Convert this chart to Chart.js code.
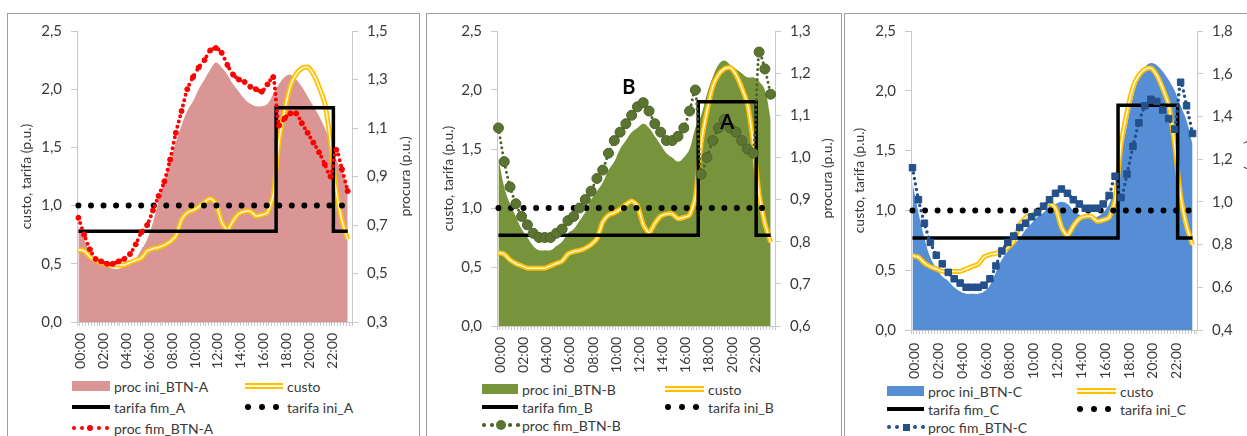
<!DOCTYPE html>
<html>
<head>
<meta charset="utf-8">
<script src="https://cdn.jsdelivr.net/npm/chart.js@4.4.0/dist/chart.umd.min.js"></script>
<style>
  body { margin: 0; width: 1247px; height: 436px; overflow: hidden; position: relative; background: #fff; font-family: Lato, sans-serif; color: #3a3a3a; }
  .quadro { position: absolute; top: 13px; height: 440px; border: 1px solid #9c9c9c; box-sizing: border-box; }
  canvas { position: absolute; top: 13px; }
  .item { position: absolute; height: 20px; display: flex; align-items: center; white-space: nowrap; font-size: 14px; }
  .sw { display: inline-block; position: relative; margin-right: 4px; }
  .sw i { position: absolute; display: block; }
</style>
</head>
<body>
<div class="quadro" style="left:7px;width:413px"></div>
<div class="quadro" style="left:426px;width:416px"></div>
<div class="quadro" style="left:844px;width:420px"></div>
<canvas id="graficoA" width="412" height="359" style="left:7px"></canvas>
<canvas id="graficoB" width="415" height="363" style="left:427px"></canvas>
<canvas id="graficoC" width="418" height="367" style="left:844px"></canvas>
<script>
// categorias: 96 quartos de hora, valores lidos a cada meia hora
const horas = [];
for (let h = 0; h < 24; h++) {
  for (let m = 0; m < 60; m += 15) {
    horas.push(String(h).padStart(2, '0') + ':' + String(m).padStart(2, '0'));
  }
}

// custo (eixo esquerdo), igual nos tres graficos
const custo = [0.62, 0.61, 0.56, 0.53, 0.51, 0.49, 0.49, 0.49, 0.49, 0.51, 0.53, 0.55,
  0.61, 0.63, 0.64, 0.66, 0.69, 0.74, 0.88, 0.94, 0.96, 0.99, 1.03, 1.06,
  1.02, 0.86, 0.79, 0.87, 0.93, 0.95, 0.95, 0.91, 0.92, 0.94, 1.09, 1.55,
  1.82, 2.03, 2.13, 2.18, 2.19, 2.13, 2.02, 1.88, 1.55, 1.12, 0.87, 0.71];

const tarifaIni = [1, 1, 1, 1, 1, 1, 1, 1, 1, 1, 1, 1, 1, 1, 1, 1, 1, 1, 1, 1, 1, 1, 1, 1,
  1, 1, 1, 1, 1, 1, 1, 1, 1, 1, 1, 1, 1, 1, 1, 1, 1, 1, 1, 1, 1, 1, 1, 1];

// BTN-A
const procIniA = [0.70, 0.64, 0.59, 0.55, 0.54, 0.53, 0.52, 0.52, 0.53, 0.54, 0.56, 0.60,
  0.64, 0.71, 0.80, 0.88, 0.96, 1.04, 1.11, 1.17, 1.21, 1.26, 1.30, 1.34,
  1.37, 1.35, 1.32, 1.28, 1.25, 1.22, 1.20, 1.19, 1.19, 1.20, 1.24, 1.28,
  1.31, 1.32, 1.30, 1.27, 1.23, 1.19, 1.15, 1.10, 1.04, 0.97, 0.92, 0.86];
const procFimA = [0.73, 0.66, 0.60, 0.56, 0.55, 0.54, 0.54, 0.55, 0.56, 0.58, 0.62, 0.67,
  0.70, 0.76, 0.82, 0.88, 0.97, 1.08, 1.17, 1.26, 1.31, 1.35, 1.38, 1.42,
  1.43, 1.41, 1.36, 1.32, 1.30, 1.29, 1.27, 1.26, 1.25, 1.28, 1.31, 1.11,
  1.14, 1.16, 1.16, 1.12, 1.08, 1.04, 1.00, 0.95, 0.90, 1.01, 0.93, 0.84];
const tarifaFimA = [0.78, 0.78, 0.78, 0.78, 0.78, 0.78, 0.78, 0.78, 0.78, 0.78, 0.78, 0.78,
  0.78, 0.78, 0.78, 0.78, 0.78, 0.78, 0.78, 0.78, 0.78, 0.78, 0.78, 0.78,
  0.78, 0.78, 0.78, 0.78, 0.78, 0.78, 0.78, 0.78, 0.78, 0.78, 0.78, 1.84,
  1.84, 1.84, 1.84, 1.84, 1.84, 1.84, 1.84, 1.84, 1.84, 0.78, 0.78, 0.78];

// BTN-B
const procIniB = [1.00, 0.93, 0.89, 0.86, 0.83, 0.81, 0.79, 0.78, 0.78, 0.78, 0.79, 0.80,
  0.82, 0.83, 0.85, 0.87, 0.90, 0.92, 0.94, 0.97, 0.99, 1.02, 1.04, 1.06,
  1.07, 1.08, 1.07, 1.05, 1.03, 1.01, 1.00, 0.99, 1.00, 1.02, 1.07, 1.10,
  1.15, 1.19, 1.22, 1.23, 1.22, 1.21, 1.20, 1.19, 1.19, 1.18, 1.16, 1.09];
const procFimB = [1.07, 0.99, 0.93, 0.89, 0.86, 0.84, 0.82, 0.81, 0.81, 0.81, 0.82, 0.83,
  0.85, 0.86, 0.88, 0.90, 0.92, 0.95, 0.97, 1.01, 1.04, 1.06, 1.08, 1.10,
  1.12, 1.13, 1.11, 1.08, 1.06, 1.04, 1.04, 1.05, 1.07, 1.11, 1.16, 0.96,
  1.00, 1.04, 1.07, 1.09, 1.07, 1.06, 1.04, 1.02, 1.01, 1.25, 1.21, 1.15];
const tarifaFimB = [0.77, 0.77, 0.77, 0.77, 0.77, 0.77, 0.77, 0.77, 0.77, 0.77, 0.77, 0.77,
  0.77, 0.77, 0.77, 0.77, 0.77, 0.77, 0.77, 0.77, 0.77, 0.77, 0.77, 0.77,
  0.77, 0.77, 0.77, 0.77, 0.77, 0.77, 0.77, 0.77, 0.77, 0.77, 0.77, 1.90,
  1.90, 1.90, 1.90, 1.90, 1.90, 1.90, 1.90, 1.90, 1.90, 0.77, 0.77, 0.77];

// BTN-C
const procIniC = [1.09, 0.95, 0.83, 0.74, 0.69, 0.65, 0.63, 0.60, 0.58, 0.57, 0.57, 0.57,
  0.58, 0.61, 0.67, 0.73, 0.77, 0.80, 0.83, 0.87, 0.90, 0.93, 0.95, 0.98,
  0.99, 1.00, 0.99, 0.96, 0.94, 0.93, 0.93, 0.93, 0.95, 0.99, 1.06, 1.22,
  1.36, 1.49, 1.58, 1.63, 1.65, 1.64, 1.61, 1.57, 1.52, 1.45, 1.38, 1.27];
const procFimC = [1.16, 1.01, 0.90, 0.81, 0.75, 0.71, 0.67, 0.64, 0.62, 0.60, 0.60, 0.60,
  0.61, 0.64, 0.70, 0.77, 0.81, 0.84, 0.88, 0.90, 0.93, 0.95, 0.98, 1.01,
  1.04, 1.06, 1.04, 1.01, 0.99, 0.97, 0.97, 0.97, 0.99, 1.03, 1.12, 1.02,
  1.13, 1.26, 1.37, 1.45, 1.48, 1.47, 1.43, 1.39, 1.34, 1.56, 1.45, 1.32];
const tarifaFimC = [0.77, 0.77, 0.77, 0.77, 0.77, 0.77, 0.77, 0.77, 0.77, 0.77, 0.77, 0.77,
  0.77, 0.77, 0.77, 0.77, 0.77, 0.77, 0.77, 0.77, 0.77, 0.77, 0.77, 0.77,
  0.77, 0.77, 0.77, 0.77, 0.77, 0.77, 0.77, 0.77, 0.77, 0.77, 0.77, 1.88,
  1.88, 1.88, 1.88, 1.88, 1.88, 1.88, 1.88, 1.88, 1.88, 0.77, 0.77, 0.77];

// letras do grafico B
const notasTexto = ['B', 'A'];
const notasHora = ['11:15', '19:45'];
const notasValor = [2.02, 1.72];

const corTexto = '#3a3a3a';
const corEixo = '#c8c8c8';

Chart.defaults.font.family = 'Lato, sans-serif';
Chart.defaults.font.size = 14;
Chart.defaults.color = corTexto;

function pontos(valores) {
  return valores.map((v, j) => ({ x: horas[2 * j], y: v }));
}

function decimal(v) {
  return Number(v).toFixed(1).replace('.', ',');
}

// titulo do eixo direito, lido de baixo para cima
const tituloDireita = {
  id: 'tituloDireita',
  afterDraw(chart, args, opts) {
    const s = chart.scales.y1;
    const ctx = chart.ctx;
    ctx.save();
    ctx.translate(s.right - opts.recuo, (s.top + s.bottom) / 2);
    ctx.rotate(-Math.PI / 2);
    ctx.font = '14px Lato, sans-serif';
    ctx.fillStyle = corTexto;
    ctx.textAlign = 'center';
    ctx.textBaseline = 'middle';
    ctx.fillText('procura (p.u.)', 0, 0);
    ctx.restore();
  }
};

const letras = {
  id: 'letras',
  afterDatasetsDraw(chart, args, opts) {
    if (!opts.textos) return;
    const ctx = chart.ctx;
    ctx.save();
    ctx.font = 'bold 20px Lato, sans-serif';
    ctx.fillStyle = '#000';
    ctx.textAlign = 'center';
    ctx.textBaseline = 'middle';
    opts.textos.forEach((t, i) => {
      const x = chart.scales.x.getPixelForValue(horas.indexOf(opts.horas[i]));
      const y = chart.scales.y.getPixelForValue(opts.valores[i]);
      ctx.fillText(t, x, y);
    });
    ctx.restore();
  }
};

function criarGrafico(id, p) {
  return new Chart(document.getElementById(id), {
    type: 'line',
    data: {
      labels: horas,
      datasets: [
        {
          label: p.nomes[0], data: pontos(p.procIni), yAxisID: 'y1',
          fill: 'start', backgroundColor: p.corArea, borderWidth: 0,
          pointRadius: 0, tension: 0.4, order: 10
        },
        {
          label: p.nomes[1], data: pontos(custo), yAxisID: 'y',
          borderColor: '#ffc000', borderWidth: 5, pointRadius: 0, tension: 0.2, order: 6
        },
        {
          label: p.nomes[1], data: pontos(custo), yAxisID: 'y',
          borderColor: '#fff7d6', borderWidth: 1.5, pointRadius: 0, tension: 0.2, order: 5
        },
        {
          label: p.nomes[3], data: pontos(tarifaIni), yAxisID: 'y',
          borderColor: '#000', borderWidth: 6, borderDash: [0, 12.55], borderCapStyle: 'round',
          pointRadius: 0, order: 4
        },
        {
          label: p.nomes[2], data: pontos(p.tarifaFim), yAxisID: 'y',
          borderColor: '#000', borderWidth: 3.5, stepped: 'middle', pointRadius: 0, order: 2
        },
        {
          label: p.nomes[4], data: pontos(p.procFim), yAxisID: 'y1',
          borderColor: p.corFim, borderWidth: p.larguraFim, borderDash: p.tracoFim,
          borderCapStyle: 'round', pointStyle: p.marcador, pointRadius: p.raio,
          pointBackgroundColor: p.corMarca, pointBorderColor: p.corFim, pointBorderWidth: 1,
          tension: 0.25, order: 1
        }
      ]
    },
    options: {
      responsive: false,
      animation: false,
      events: [],
      layout: { padding: { top: 18, left: 0, right: 0, bottom: 0 } },
      plugins: {
        legend: { display: false },
        tooltip: { enabled: false },
        tituloDireita: { recuo: p.recuoTitulo },
        letras: p.letras || {}
      },
      scales: {
        x: {
          offset: true,
          grid: { drawOnChartArea: false, tickLength: 4, color: corEixo, offset: true },
          border: { color: corEixo },
          ticks: {
            autoSkip: false, minRotation: 90, maxRotation: 90, padding: p.padX, labelOffset: 2,
            callback: (v, i) => (i % 8 === 0 ? horas[i] : '')
          },
          afterFit: s => { s.height = 50; }
        },
        y: {
          position: 'left', min: 0, max: 2.5,
          ticks: { stepSize: 0.5, padding: 9, font: { size: 15 }, callback: v => decimal(v) },
          grid: { drawOnChartArea: false, tickLength: 6, color: corEixo },
          border: { color: corEixo },
          title: {
            display: true, text: 'custo, tarifa (p.u.)',
            padding: { top: p.padTitulo, bottom: 0 }
          },
          afterFit: s => { s.width = p.largEsq; }
        },
        y1: {
          position: 'right', min: p.min1, max: p.max1,
          ticks: { stepSize: p.passo1, padding: 9, font: { size: 15 }, callback: v => decimal(v) },
          grid: { drawOnChartArea: false, tickLength: 6, color: corEixo },
          border: { color: corEixo },
          afterFit: s => { s.width = p.largDir; }
        }
      }
    },
    plugins: [tituloDireita, letras]
  });
}

// legenda em HTML, duas colunas
function bola(cx, d, cor, quadrado) {
  return '<i style="left:' + (cx - d / 2) + 'px;top:' + (5 - d / 2) + 'px;width:' + d + 'px;height:' + d +
    'px;background:' + cor + ';border-radius:' + (quadrado ? '0' : '50%') + '"></i>';
}

function amostra(tipo, w, p) {
  if (tipo === 'area') return '<span class="sw" style="width:' + w + 'px;height:10px;background:' + p.corArea + '"></span>';
  if (tipo === 'custo') return '<span class="sw" style="width:' + w + 'px;height:2px;border-top:2px solid #ffc000;border-bottom:2px solid #ffc000;background:#fff7d6"></span>';
  if (tipo === 'linha') return '<span class="sw" style="width:' + w + 'px;height:4px;background:#000"></span>';
  if (tipo === 'pontos') return '<span class="sw" style="width:' + w + 'px;height:10px">' +
    bola(3, 6, '#000') + bola(17, 6, '#000') + bola(31, 6, '#000') + '</span>';
  const l = p.legFim;
  return '<span class="sw" style="width:' + w + 'px;height:10px">' +
    bola(2, l.d, p.corFim) + bola(10, l.d, p.corFim) + bola(l.meio, l.dm, p.corMarca, p.marcador === 'rect') +
    bola(l.meio + 9, l.d, p.corFim) + bola(l.meio + 17, l.d, p.corFim) + '</span>';
}

function legenda(p) {
  const L = p.leg;
  const itens = [
    [L.x1, L.w1, L.ys[0], 'area', p.nomes[0]],
    [L.x2, L.w2, L.ys[0], 'custo', p.nomes[1]],
    [L.x1, L.w1, L.ys[1], 'linha', p.nomes[2]],
    [L.x2, L.w2, L.ys[1], 'pontos', p.nomes[3]],
    [L.x1, L.w1, L.ys[2], 'fim', p.nomes[4]]
  ];
  itens.forEach(([x, w, y, tipo, nome]) => {
    const d = document.createElement('div');
    d.className = 'item';
    d.style.left = x + 'px';
    d.style.top = (y - 10) + 'px';
    d.innerHTML = amostra(tipo, w, p) + '<span>' + nome + '</span>';
    document.body.appendChild(d);
  });
}

const painelA = {
  nomes: ['proc ini_BTN-A', 'custo', 'tarifa fim_A', 'tarifa ini_A', 'proc fim_BTN-A'],
  procIni: procIniA, procFim: procFimA, tarifaFim: tarifaFimA,
  corArea: '#d99694', corFim: '#ff0000', corMarca: '#ff0000',
  larguraFim: 4, tracoFim: [0, 5.5], marcador: 'circle', raio: 2.5,
  min1: 0.3, max1: 1.5, passo1: 0.2,
  largEsq: 70, largDir: 67, padTitulo: 11, recuoTitulo: 14, padX: 7,
  leg: { x1: 72, w1: 38, x2: 245, w2: 38, ys: [386, 407, 428] },
  legFim: { d: 4, meio: 18, dm: 6 }
};

const painelB = {
  nomes: ['proc ini_BTN-B', 'custo', 'tarifa fim_B', 'tarifa ini_B', 'proc fim_BTN-B'],
  procIni: procIniB, procFim: procFimB, tarifaFim: tarifaFimB,
  corArea: '#77933c', corFim: '#4f6228', corMarca: '#5c7431',
  larguraFim: 3, tracoFim: [0, 5], marcador: 'circle', raio: 5,
  min1: 0.6, max1: 1.3, passo1: 0.1,
  largEsq: 70, largDir: 67, padTitulo: 13, recuoTitulo: 15, padX: 7,
  leg: { x1: 482, w1: 36, x2: 665, w2: 39, ys: [389, 407, 425] },
  legFim: { d: 3.5, meio: 19, dm: 10 },
  letras: { textos: notasTexto, horas: notasHora, valores: notasValor }
};

const painelC = {
  nomes: ['proc ini_BTN-C', 'custo', 'tarifa fim_C', 'tarifa ini_C', 'proc fim_BTN-C'],
  procIni: procIniC, procFim: procFimC, tarifaFim: tarifaFimC,
  corArea: '#558ed5', corFim: '#24508c', corMarca: '#24508c',
  larguraFim: 3.5, tracoFim: [0, 5.5], marcador: 'rect', raio: 4.6,
  min1: 0.4, max1: 1.8, passo1: 0.2,
  largEsq: 67, largDir: 65, padTitulo: 7, recuoTitulo: 13, padX: 9,
  leg: { x1: 887, w1: 37, x2: 1077, w2: 39, ys: [391, 409, 427] },
  legFim: { d: 4, meio: 19, dm: 7 }
};

criarGrafico('graficoA', painelA);
criarGrafico('graficoB', painelB);
criarGrafico('graficoC', painelC);
legenda(painelA);
legenda(painelB);
legenda(painelC);
</script>
</body>
</html>
